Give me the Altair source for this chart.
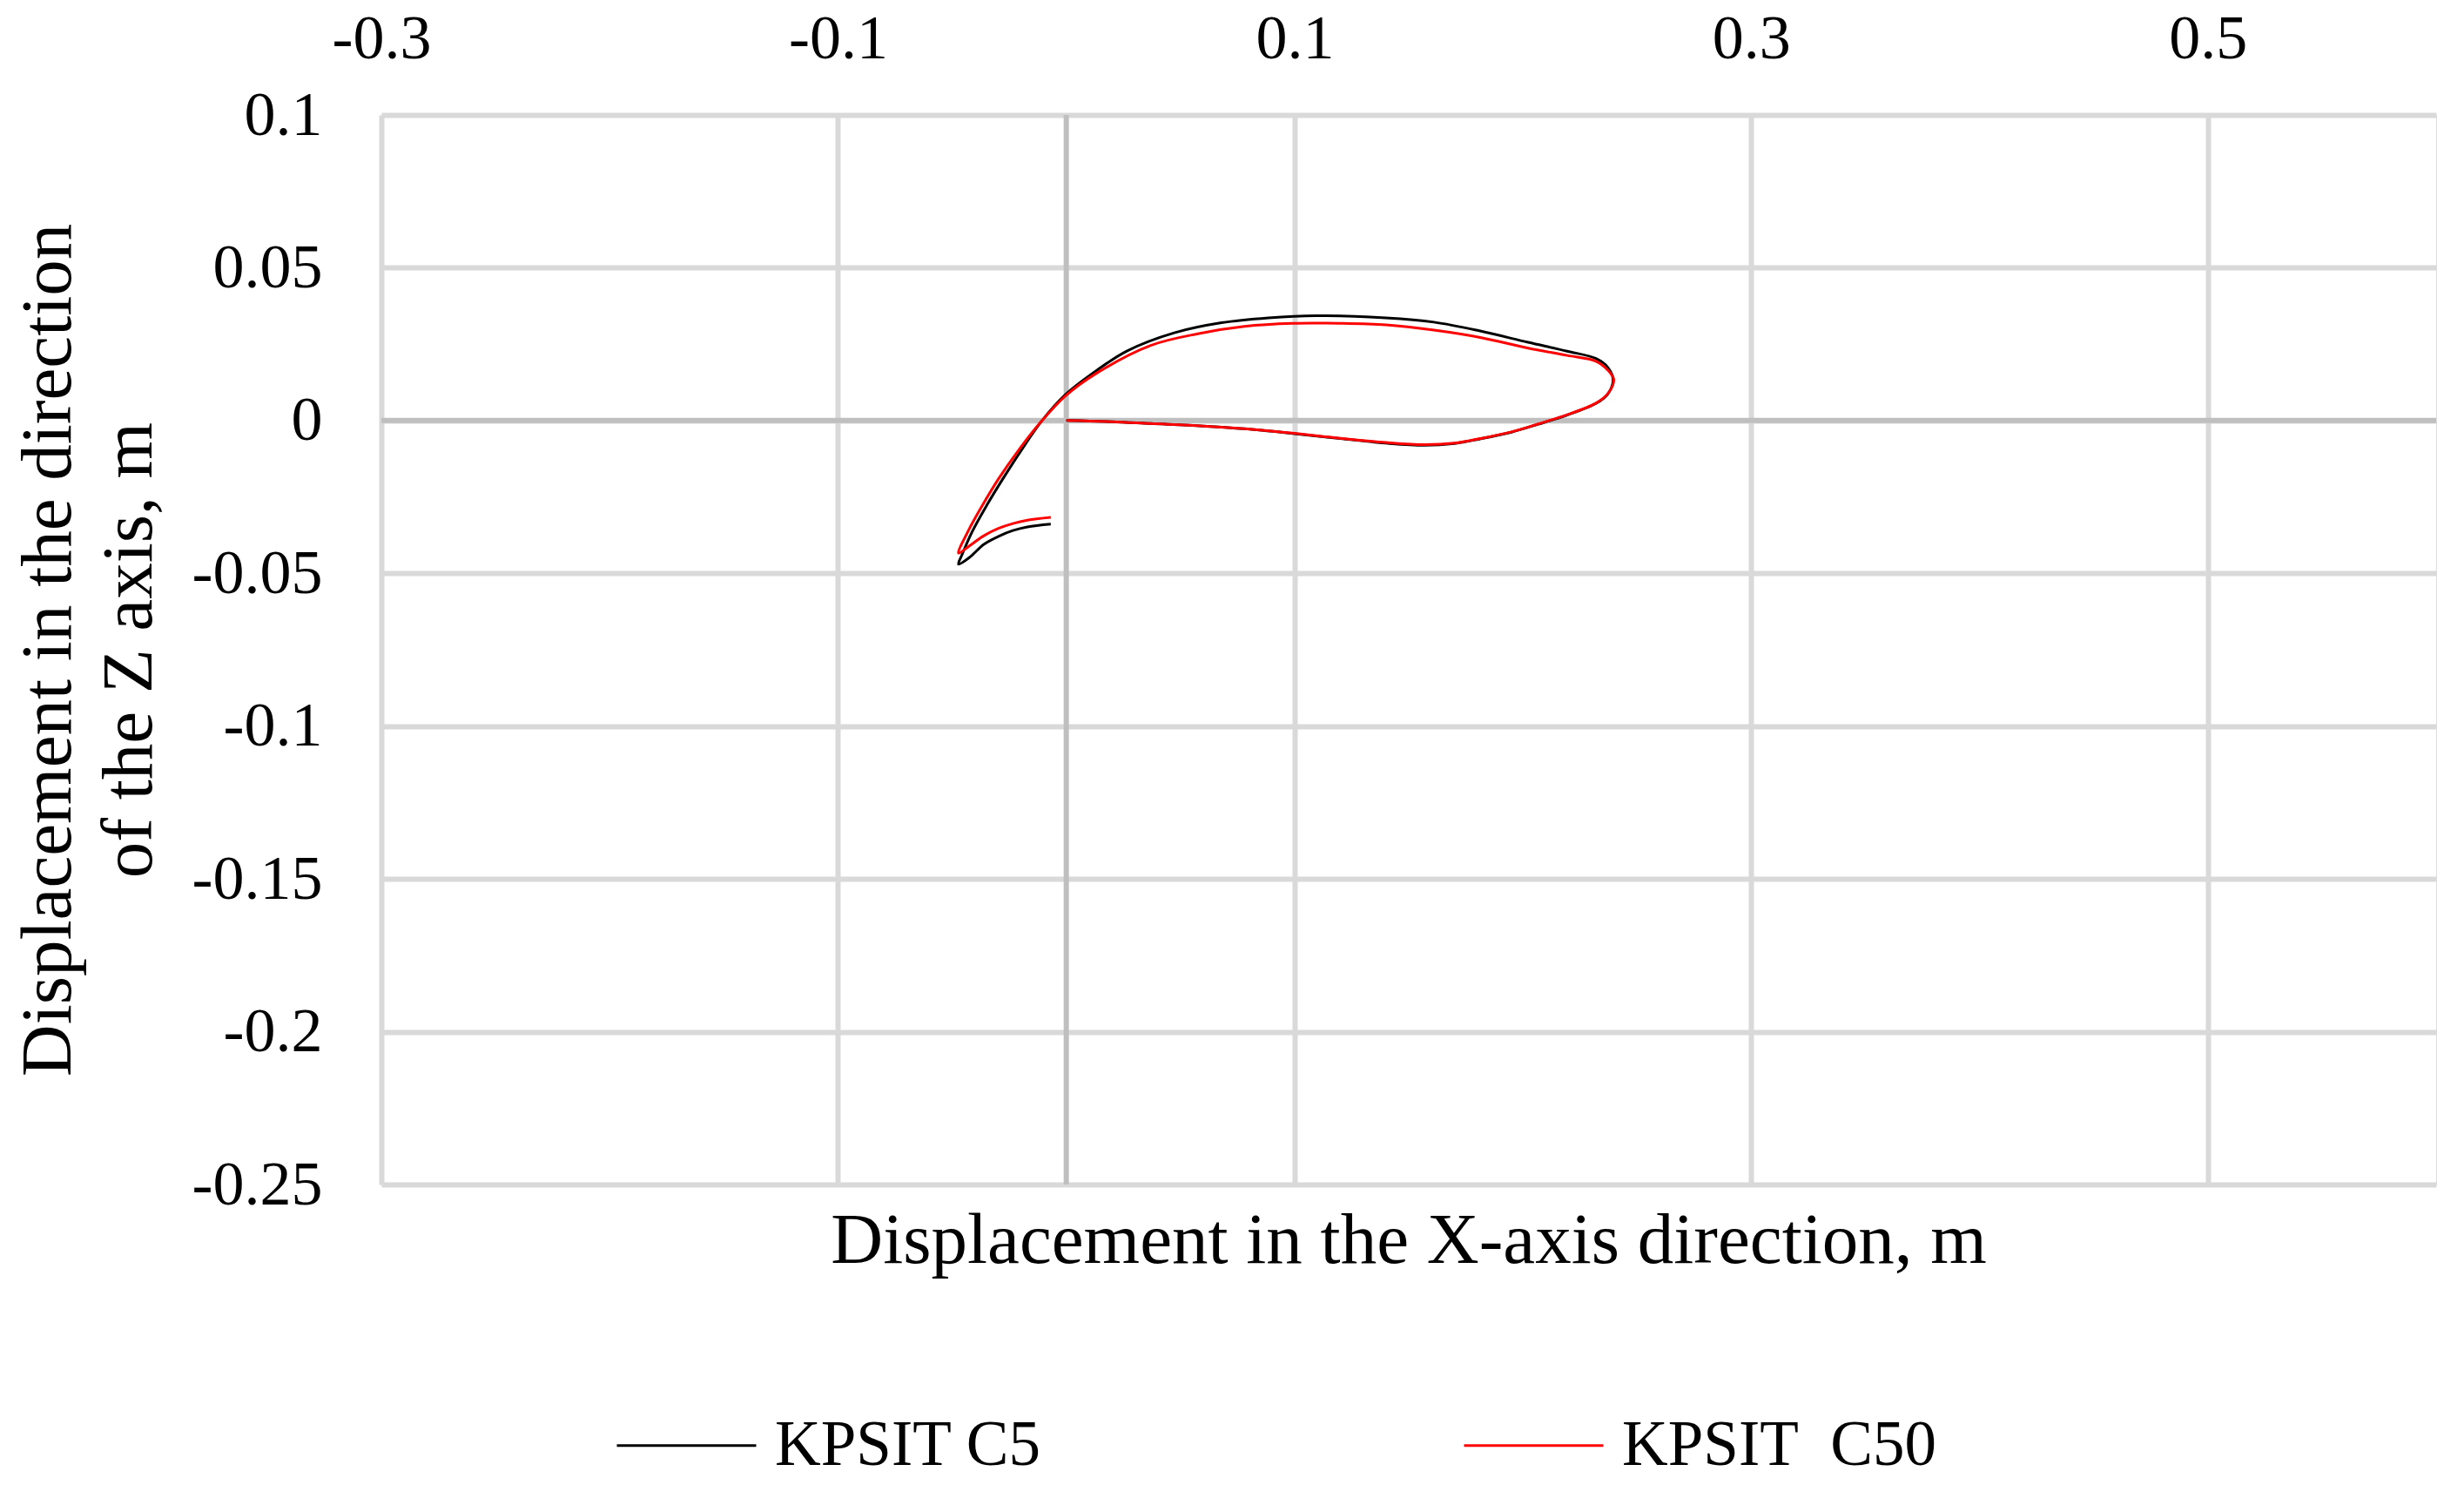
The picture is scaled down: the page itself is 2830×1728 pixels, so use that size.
import altair as alt
import pandas as pd

# ---- data ----
c5_x = [0.0, 0.02, 0.037, 0.06, 0.078, 0.1, 0.12, 0.14, 0.157, 0.17, 0.1813, 0.195, 0.2067,
        0.2194, 0.232, 0.237, 0.2395, 0.2372, 0.232, 0.2194, 0.2023, 0.1813, 0.161, 0.14,
        0.1093, 0.0886, 0.068, 0.0473, 0.0267, 0.0135, -0.0005, -0.0106, -0.0196, -0.0278,
        -0.0348, -0.0411, -0.0456, -0.0472, -0.0424, -0.0361, -0.0297, -0.0234, -0.017,
        -0.0068]
c5_y = [0.0, -0.0004, -0.001, -0.0018, -0.0027, -0.0043, -0.0059, -0.0074, -0.0081, -0.0075,
        -0.006, -0.0038, -0.0012, 0.0018, 0.0056, 0.0085, 0.0133, 0.0174, 0.0203, 0.0227,
        0.0256, 0.0293, 0.0322, 0.0336, 0.0343, 0.0336, 0.032, 0.0287, 0.0228, 0.0165,
        0.0084, 0.0, -0.0096, -0.0191, -0.0277, -0.0362, -0.0438, -0.047, -0.0448, -0.0405,
        -0.0379, -0.036, -0.0348, -0.0339]

c50_x = [0.0, 0.02, 0.037, 0.06, 0.078, 0.1, 0.12, 0.14, 0.157, 0.17, 0.1813, 0.195, 0.2067,
         0.2194, 0.232, 0.237, 0.2398, 0.2372, 0.232, 0.2194, 0.2023, 0.1813, 0.161, 0.14,
         0.1196, 0.099, 0.078, 0.0576, 0.037, 0.0135, -0.0005, -0.0106, -0.0208, -0.0297,
         -0.0367, -0.043, -0.0472, -0.0424, -0.0361, -0.0297, -0.0234, -0.017, -0.0068]
c50_y = [0.0, -0.0004, -0.001, -0.0018, -0.0027, -0.0042, -0.0058, -0.0072, -0.0079, -0.0074,
         -0.0059, -0.0037, -0.0011, 0.0019, 0.0057, 0.0086, 0.0133, 0.0165, 0.0194, 0.0213,
         0.0237, 0.0272, 0.0296, 0.0313, 0.0318, 0.0318, 0.0308, 0.0284, 0.0246, 0.0156,
         0.008, 0.0, -0.0096, -0.0191, -0.0277, -0.0362, -0.0434, -0.041, -0.0377, -0.0353,
         -0.0337, -0.0326, -0.0317]

series_names = ["KPSIT C5", "KPSIT\u00a0 C50"]
series_colors = ["#000000", "#FF0000"]

x_ticks = [-0.3, -0.1, 0.1, 0.3, 0.5]
y_ticks = [0.1, 0.05, 0.0, -0.05, -0.1, -0.15, -0.2, -0.25]

x_title = "Displacement in the X-axis direction, m"
y_title = ["Displacement in the direction", "of the Z axis, m"]

rows = []
for i, (xv, yv) in enumerate(zip(c5_x, c5_y)):
    rows.append({"series": series_names[0], "i": i, "x": xv, "z": yv})
for i, (xv, yv) in enumerate(zip(c50_x, c50_y)):
    rows.append({"series": series_names[1], "i": i, "x": xv, "z": yv})
df = pd.DataFrame(rows)

FONT = "Liberation Serif"
W, H = 2360, 1228

xscale = alt.Scale(domain=[-0.3, 0.6], nice=False, zero=False)
yscale = alt.Scale(domain=[-0.25, 0.1], nice=False, zero=False)

x_axis = alt.Axis(orient="top", values=x_ticks, title=None, labelExpr="'' + datum.value",
                  labelFont=FONT, labelFontSize=72, labelColor="black", labelBaseline="alphabetic",
                  labelPadding=66, ticks=False, domain=False, grid=True,
                  gridColor="#D9D9D9", gridWidth=6, labelFlush=False)
y_axis = alt.Axis(values=y_ticks, labelExpr="'' + datum.value",
                  title=y_title,
                  titleFont=FONT, titleFontSize=83, titleFontWeight="normal", titleColor="black",
                  titleAngle=-90, titleAlign="center", titleBaseline="alphabetic",
                  titleLineHeight=93, titleX=-358, titleY=H / 2,
                  labelFont=FONT, labelFontSize=72, labelColor="black", labelPadding=68,
                  ticks=False, domain=False, grid=True, gridColor="#D9D9D9", gridWidth=6,
                  labelFlush=False)

base = alt.Chart(df)

lines = base.mark_line(strokeWidth=3, interpolate="catmull-rom").encode(
    x=alt.X("x:Q", scale=xscale, axis=x_axis),
    y=alt.Y("z:Q", scale=yscale, axis=y_axis),
    order=alt.Order("i:Q"),
    color=alt.Color("series:N",
                    scale=alt.Scale(domain=series_names, range=series_colors),
                    legend=alt.Legend(title=None, orient="none", legendX=269, legendY=1446,
                                      direction="horizontal", columns=2, columnPadding=478,
                                      symbolType="stroke", symbolSize=25600, symbolStrokeWidth=3,
                                      labelFont=FONT, labelFontSize=73, labelColor="black",
                                      labelOffset=20, labelLimit=1000, padding=0)),
)

zero_df = pd.DataFrame({"v": [0.0]})
vrule = alt.Chart(zero_df).mark_rule(color="#BFBFBF", strokeWidth=6).encode(
    x=alt.X("v:Q", scale=xscale))
hrule = alt.Chart(zero_df).mark_rule(color="#BFBFBF", strokeWidth=6).encode(
    y=alt.Y("v:Q", scale=yscale))

title_df = pd.DataFrame({"t": [x_title]})
xtitle = alt.Chart(title_df).mark_text(
    font=FONT, fontSize=83, color="black", align="center", baseline="alphabetic"
).encode(text="t:N", x=alt.value(W / 2), y=alt.value(H + 90))

chart = alt.layer(vrule, hrule, lines, xtitle).properties(
    width=W, height=H,
    autosize=alt.AutoSizeParams(type="none"),
    padding={"left": 430, "top": 124, "right": 20, "bottom": 360},
).configure_view(stroke=None).configure(background="white")

chart.save("out.html", embed_options={"renderer": "svg", "actions": False})
